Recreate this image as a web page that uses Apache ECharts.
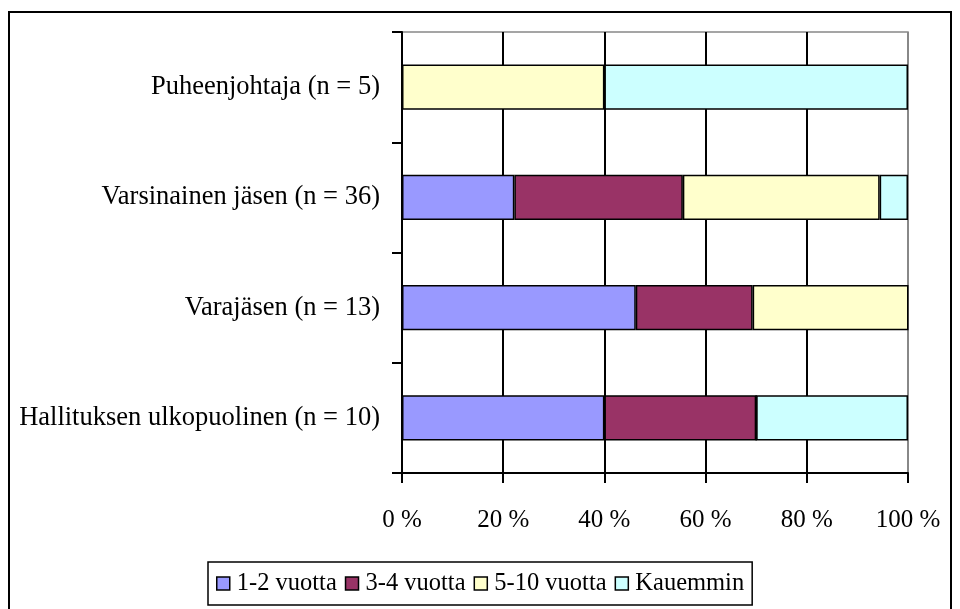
<!DOCTYPE html>
<html>
<head>
<meta charset="utf-8">
<script src="https://cdn.jsdelivr.net/npm/echarts@6/dist/echarts.min.js"></script>
<style>
  html, body { margin: 0; padding: 0; background: #fff; }
  #chart { width: 960px; height: 609px; }
</style>
</head>
<body>
<div id="chart"></div>
<script>
// categories top to bottom
const categories = [
  'Puheenjohtaja (n = 5)',
  'Varsinainen jäsen (n = 36)',
  'Varajäsen (n = 13)',
  'Hallituksen ulkopuolinen (n = 10)'
];
const seriesNames = ['1-2 vuotta', '3-4 vuotta', '5-10 vuotta', 'Kauemmin'];
// shares in percent
const v12 = [0, 22.2, 46.2, 40];
const v34 = [0, 33.3, 23.1, 30];
const v510 = [40, 38.9, 30.8, 0];
const vKau = [60, 5.6, 0, 30];
const colors = ['#9999ff', '#993366', '#ffffcc', '#ccffff'];
const xTicks = [0, 20, 40, 60, 80, 100];

const font = '"Liberation Serif", "Times New Roman", serif';
const chart = echarts.init(document.getElementById('chart'), null, { renderer: 'canvas' });

const values = [v12, v34, v510, vKau];
const series = seriesNames.map((name, i) => ({
  name: name,
  type: 'bar',
  stack: 'all',
  barWidth: '41%',
  data: values[i],
  itemStyle: { color: colors[i], borderColor: '#000', borderWidth: 1.5 },
  emphasis: { disabled: true }
}));

chart.setOption({
  animation: false,
  textStyle: { fontFamily: font },
  graphic: [{
    type: 'rect',
    shape: { x: 9, y: 12, width: 942, height: 640 },
    style: { fill: 'none', stroke: '#000', lineWidth: 2 },
    z: -1
  }],
  grid: {
    left: 402, right: 52, top: 32, bottom: 136,
    show: true, borderColor: '#888', borderWidth: 1.5
  },
  xAxis: {
    type: 'value',
    min: xTicks[0], max: xTicks[xTicks.length - 1], interval: 20,
    axisLine: { show: true, lineStyle: { color: '#000', width: 2 } },
    axisTick: { show: true, length: 10, lineStyle: { color: '#000', width: 2 } },
    axisLabel: { formatter: '{value} %', color: '#000', fontSize: 25, margin: 35, fontFamily: font },
    splitLine: { show: true, lineStyle: { color: ['#000', '#000', '#000', '#000', '#000', '#888'], width: 2 } }
  },
  yAxis: {
    type: 'category',
    inverse: true,
    data: categories,
    axisLine: { show: true, lineStyle: { color: '#000', width: 2 } },
    axisTick: { show: true, length: 10, lineStyle: { color: '#000', width: 2 } },
    axisLabel: { color: '#000', fontSize: 26.5, margin: 22, fontFamily: font },
    splitLine: { show: false }
  },
  legend: {
    data: seriesNames,
    left: 208, top: 562,
    orient: 'horizontal',
    icon: 'rect',
    itemWidth: 13, itemHeight: 13,
    itemGap: 8,
    padding: [8, 8, 8, 8],
    borderColor: '#000', borderWidth: 1.5,
    itemStyle: { borderColor: '#000', borderWidth: 1.5 },
    textStyle: { color: '#000', fontSize: 24.5, lineHeight: 27, fontFamily: font, padding: [0, 0, 0, 2] }
  },
  series: series
});
</script>
</body>
</html>
